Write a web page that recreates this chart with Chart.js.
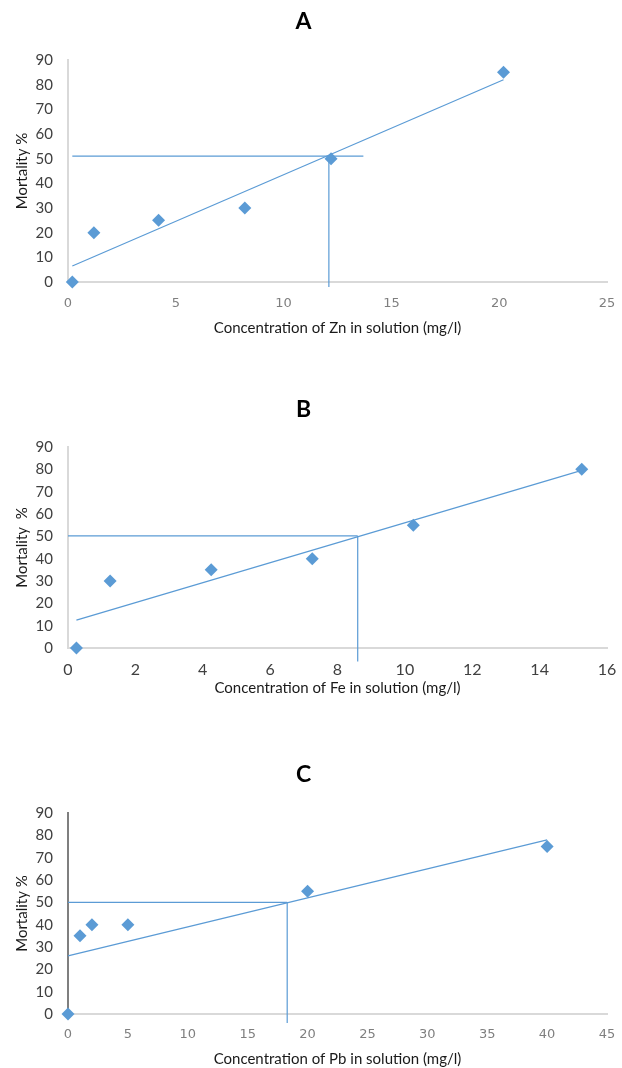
<!DOCTYPE html>
<html>
<head>
<meta charset="utf-8">
<script src="https://cdn.jsdelivr.net/npm/chart.js@4.4.1/dist/chart.umd.min.js"></script>
<style>
  html, body { margin: 0; padding: 0; background: #fff; }
  canvas { display: block; }
</style>
</head>
<body>
<canvas id="chartA" width="622" height="340"></canvas>
<canvas id="chartB" width="622" height="360"></canvas>
<canvas id="chartC" width="622" height="368"></canvas>
<script>
// shared mortality ticks
const mortalityTicks = [0, 10, 20, 30, 40, 50, 60, 70, 80, 90];

// A - zinc
const znConc = [0.2, 1.2, 4.2, 8.2, 12.2, 20.2];
const znMortality = [0, 20, 25, 30, 50, 85];
const znTrendX = [0.2, 20.2];
const znTrendY = [6.5, 82];
const znHLineX = [0.2, 13.7];
const znHLineY = [51, 51];
const znVLineX = [12.1, 12.1];
const znVLineY = [51, -2];
const znTicks = [0, 5, 10, 15, 20, 25];

// B - iron
const feConc = [0.25, 1.25, 4.25, 7.25, 10.25, 15.25];
const feMortality = [0, 30, 35, 40, 55, 80];
const feTrendX = [0.25, 15.25];
const feTrendY = [12.5, 79.5];
const feHLineX = [0, 8.6];
const feHLineY = [50.2, 50.2];
const feVLineX = [8.6, 8.6];
const feVLineY = [50.2, -6];
const feTicks = [0, 2, 4, 6, 8, 10, 12, 14, 16];

// C - lead
const pbConc = [0, 1, 2, 5, 20, 40];
const pbMortality = [0, 35, 40, 40, 55, 75];
const pbTrendX = [0, 40];
const pbTrendY = [26, 78];
const pbHLineX = [0, 18.3];
const pbHLineY = [50, 50];
const pbVLineX = [18.3, 18.3];
const pbVLineY = [50, -4];
const pbTicks = [0, 5, 10, 15, 20, 25, 30, 35, 40, 45];

const blue = '#5b9bd5';

function pts(xs, ys) {
  return xs.map((x, i) => ({ x: x, y: ys[i] }));
}

function lineSet(xs, ys) {
  return {
    data: pts(xs, ys),
    showLine: true,
    pointRadius: 0,
    borderColor: blue,
    borderWidth: 1.2,
    clip: false,
    order: 1
  };
}

function makeChart(id, o) {
  return new Chart(document.getElementById(id), {
    type: 'scatter',
    data: {
      datasets: [
        {
          data: pts(o.x, o.y),
          pointStyle: 'rectRot',
          pointRadius: 6.5,
          pointHoverRadius: 6.5,
          backgroundColor: blue,
          borderColor: blue,
          borderWidth: 0,
          clip: false,
          order: 0
        },
        lineSet(o.trendX, o.trendY),
        lineSet(o.hX, o.hY),
        lineSet(o.vX, o.vY)
      ]
    },
    options: {
      responsive: false,
      animation: false,
      events: [],
      layout: { padding: { left: 0, right: 15, top: 0, bottom: 0 } },
      plugins: {
        legend: { display: false },
        tooltip: { enabled: false },
        title: {
          display: true,
          text: o.title,
          color: '#000',
          font: { family: 'Lato', size: 23, weight: 'bold' },
          padding: { top: o.titleTop, bottom: o.titleBottom }
        }
      },
      scales: {
        x: {
          type: 'linear',
          min: 0,
          max: o.xTicks[o.xTicks.length - 1],
          afterBuildTicks: a => { a.ticks = o.xTicks.map(v => ({ value: v })); },
          afterFit: a => {
            a.height = o.xAxisH;
            a.paddingLeft = 0;
            a.paddingRight = 0;
          },
          grid: { display: false, drawTicks: false },
          border: { display: true, color: '#d9d9d9', width: 2 },
          ticks: { padding: o.xTickPad, color: o.xTickColor, font: o.xTickFont },
          title: {
            display: true,
            text: o.xTitle,
            color: '#1a1a1a',
            font: { family: 'Lato', size: 15 },
            padding: { top: 0, bottom: o.xTitlePad }
          }
        },
        y: {
          type: 'linear',
          min: 0,
          max: 90,
          afterBuildTicks: a => { a.ticks = mortalityTicks.map(v => ({ value: v })); },
          afterFit: a => { a.width = 68; },
          grid: { display: false, drawTicks: false },
          border: { display: true, color: o.yBorder, width: 2 },
          ticks: { padding: 15, color: '#404040', font: { family: 'Lato', size: 15 } },
          title: {
            display: true,
            text: o.yTitle,
            color: '#1a1a1a',
            font: { family: 'Lato', size: 15 },
            padding: { top: 13, bottom: 0 }
          }
        }
      }
    }
  });
}

makeChart('chartA', {
  title: 'A', titleTop: 8.2, titleBottom: 24.2,
  x: znConc, y: znMortality,
  trendX: znTrendX, trendY: znTrendY,
  hX: znHLineX, hY: znHLineY, vX: znVLineX, vY: znVLineY,
  xTicks: znTicks, xAxisH: 58, xTickPad: 14, xTitlePad: 3,
  xTickColor: '#7f7f7f', xTickFont: { family: 'DejaVu Sans', size: 13 },
  xTitle: 'Concentration of Zn in solution (mg/l)',
  yTitle: 'Mortality %', yBorder: '#d9d9d9'
});

makeChart('chartB', {
  title: 'B', titleTop: 56.2, titleBottom: 23.2,
  x: feConc, y: feMortality,
  trendX: feTrendX, trendY: feTrendY,
  hX: feHLineX, hY: feHLineY, vX: feVLineX, vY: feVLineY,
  xTicks: feTicks, xAxisH: 52, xTickPad: 12.4, xTitlePad: 3,
  xTickColor: '#404040', xTickFont: { family: 'Lato', size: 16 },
  xTitle: 'Concentration of Fe in solution (mg/l)',
  yTitle: 'Mortality  %', yBorder: '#d9d9d9'
});

makeChart('chartC', {
  title: 'C', titleTop: 61.2, titleBottom: 24.2,
  x: pbConc, y: pbMortality,
  trendX: pbTrendX, trendY: pbTrendY,
  hX: pbHLineX, hY: pbHLineY, vX: pbVLineX, vY: pbVLineY,
  xTicks: pbTicks, xAxisH: 54, xTickPad: 13.2, xTitlePad: 0,
  xTickColor: '#7f7f7f', xTickFont: { family: 'DejaVu Sans', size: 13 },
  xTitle: 'Concentration of Pb in solution (mg/l)',
  yTitle: 'Mortality %', yBorder: '#7f7f7f'
});
</script>
</body>
</html>
